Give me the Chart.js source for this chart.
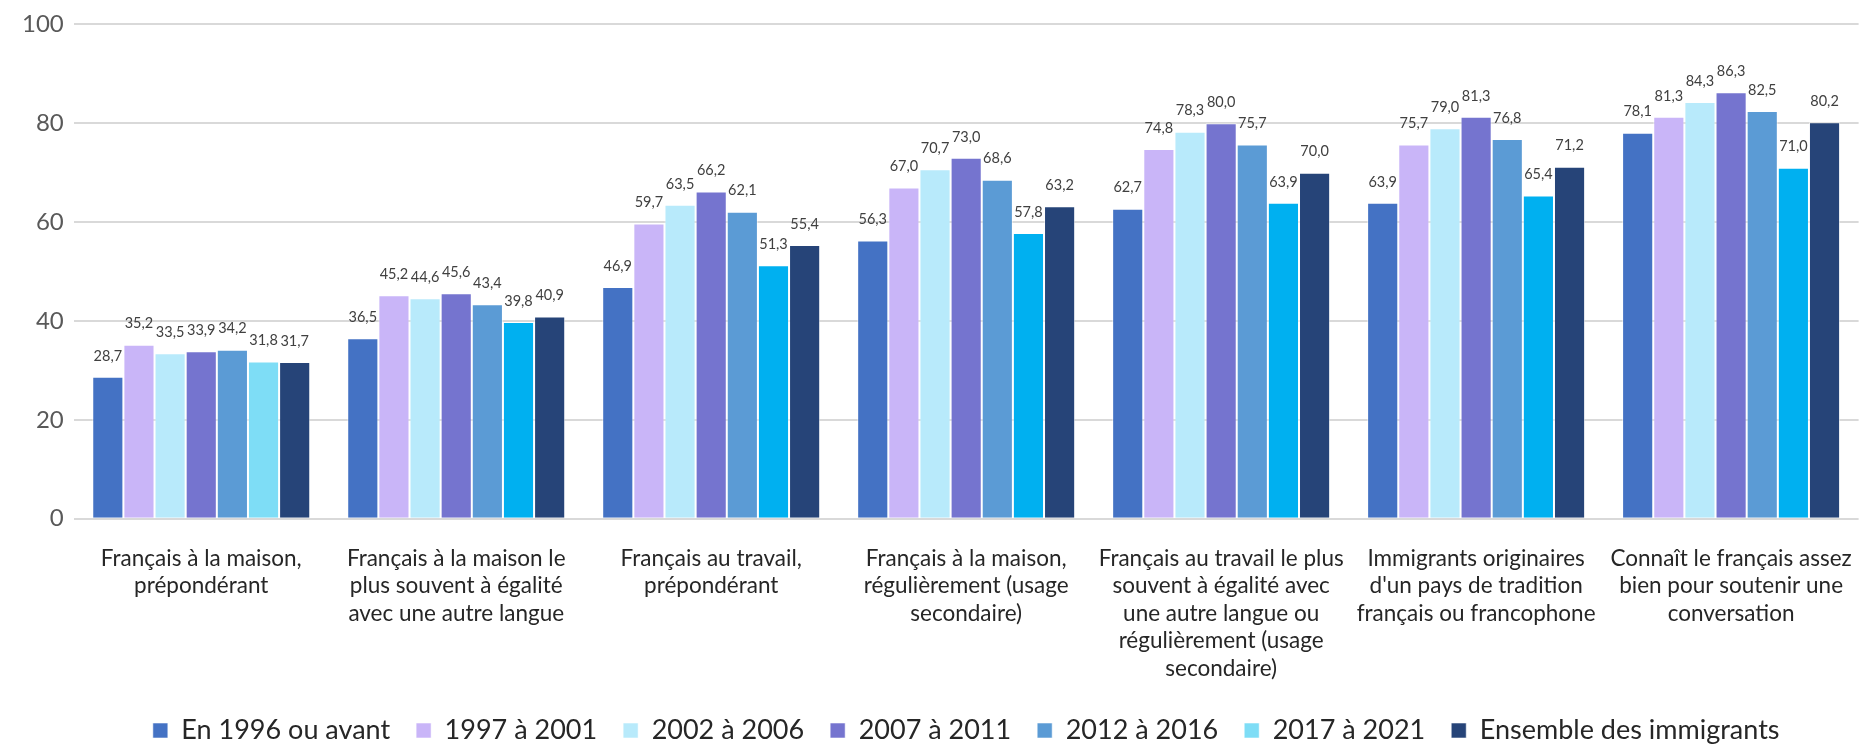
<!DOCTYPE html>
<html lang="fr">
<head>
<meta charset="utf-8">
<script src="https://cdn.jsdelivr.net/npm/chart.js@4.4.1/dist/chart.umd.min.js"></script>
<style>
  html, body { margin: 0; padding: 0; background: #fff; }
  .chart-box { position: relative; width: 1870px; height: 748px; }
</style>
</head>
<body>
<div class="chart-box">
  <canvas id="usageChart"></canvas>
</div>
<script>
// categories (axis labels, pre-wrapped)
const categories = [
  ["Français à la maison,", "prépondérant"],
  ["Français à la maison le", "plus souvent à égalité", "avec une autre langue"],
  ["Français au travail,", "prépondérant"],
  ["Français à la maison,", "régulièrement (usage", "secondaire)"],
  ["Français au travail le plus", "souvent à égalité avec", "une autre langue ou", "régulièrement (usage", "secondaire)"],
  ["Immigrants originaires", "d'un pays de tradition", "français ou francophone"],
  ["Connaît le français assez", "bien pour soutenir une", "conversation"]
];

const seriesNames = [
  "En 1996 ou avant",
  "1997 à 2001",
  "2002 à 2006",
  "2007 à 2011",
  "2012 à 2016",
  "2017 à 2021",
  "Ensemble des immigrants"
];

const avant1996   = [28.7, 36.5, 46.9, 56.3, 62.7, 63.9, 78.1];
const p1997_2001  = [35.2, 45.2, 59.7, 67.0, 74.8, 75.7, 81.3];
const p2002_2006  = [33.5, 44.6, 63.5, 70.7, 78.3, 79.0, 84.3];
const p2007_2011  = [33.9, 45.6, 66.2, 73.0, 80.0, 81.3, 86.3];
const p2012_2016  = [34.2, 43.4, 62.1, 68.6, 75.7, 76.8, 82.5];
const p2017_2021  = [31.8, 39.8, 51.3, 57.8, 63.9, 65.4, 71.0];
const ensemble    = [31.7, 40.9, 55.4, 63.2, 70.0, 71.2, 80.2];

const yTicks = [0, 20, 40, 60, 80, 100];

const seriesValues = [avant1996, p1997_2001, p2002_2006, p2007_2011, p2012_2016, p2017_2021, ensemble];
const seriesColors = ['#4472C4', '#C9B5F8', '#B8EAFB', '#7574CF', '#5B9BD5', '#00B0F0', '#264478'];

const FONT = 'Lato, "Open Sans", sans-serif';

// value labels above each bar, French decimal comma
const barValueLabels = {
  id: 'barValueLabels',
  afterDatasetsDraw(chart) {
    const ctx = chart.ctx;
    ctx.save();
    ctx.font = '14.5px ' + FONT;
    ctx.fillStyle = '#404040';
    ctx.textAlign = 'center';
    ctx.textBaseline = 'middle';
    chart.data.datasets.forEach((ds, i) => {
      chart.getDatasetMeta(i).data.forEach((bar, j) => {
        const txt = ds.data[j].toFixed(1).replace('.', ',');
        ctx.fillText(txt, bar.x, bar.y - 21);
      });
    });
    ctx.restore();
  }
};

// keep the wide legend spacing between items but trim the space under it
const legendTrim = {
  id: 'legendTrim',
  beforeLayout(chart) {
    const lg = chart.legend;
    if (lg && !lg._trimmed) {
      const fit = lg.fit;
      lg.fit = function () {
        fit.call(this);
        this.height -= 6;
      };
      lg._trimmed = true;
    }
  }
};

const datasets = seriesNames.map((name, i) => {
  let bg = seriesColors[i];
  if (i === 5) {
    // first group uses a lighter cyan for this period
    bg = seriesValues[i].map((v, j) => j === 0 ? '#7EDDF6' : seriesColors[i]);
  }
  return {
    label: name,
    data: seriesValues[i],
    backgroundColor: bg,
    borderColor: 'rgba(255,255,255,0.55)',
    borderWidth: 1,
    barPercentage: 1,
    categoryPercentage: 0.855
  };
});

new Chart(document.getElementById('usageChart'), {
  type: 'bar',
  data: { labels: categories, datasets: datasets },
  plugins: [barValueLabels, legendTrim],
  options: {
    responsive: true,
    maintainAspectRatio: false,
    animation: false,
    layout: { padding: { top: 5, left: 12, right: 4, bottom: 0 } },
    scales: {
      x: {
        grid: { display: false },
        border: { display: false },
        ticks: {
          color: '#262626',
          font: { family: FONT, size: 22.5, lineHeight: 1.22 },
          padding: 18,
          maxRotation: 0,
          autoSkip: false
        },
        afterFit(axis) { axis.height -= 9; }
      },
      y: {
        min: 0,
        max: 100,
        afterBuildTicks(axis) { axis.ticks = yTicks.map(v => ({ value: v })); },
        grid: { color: '#d9d9d9', lineWidth: 2, drawTicks: false },
        border: { display: false },
        ticks: {
          color: '#595959',
          font: { family: FONT, size: 24 },
          padding: 10
        }
      }
    },
    plugins: {
      legend: {
        position: 'bottom',
        fullSize: false,
        labels: {
          color: '#262626',
          font: { family: FONT, size: 27 },
          boxWidth: 15,
          boxHeight: 15,
          padding: 26
        }
      },
      tooltip: { enabled: false }
    }
  }
});
</script>
</body>
</html>
